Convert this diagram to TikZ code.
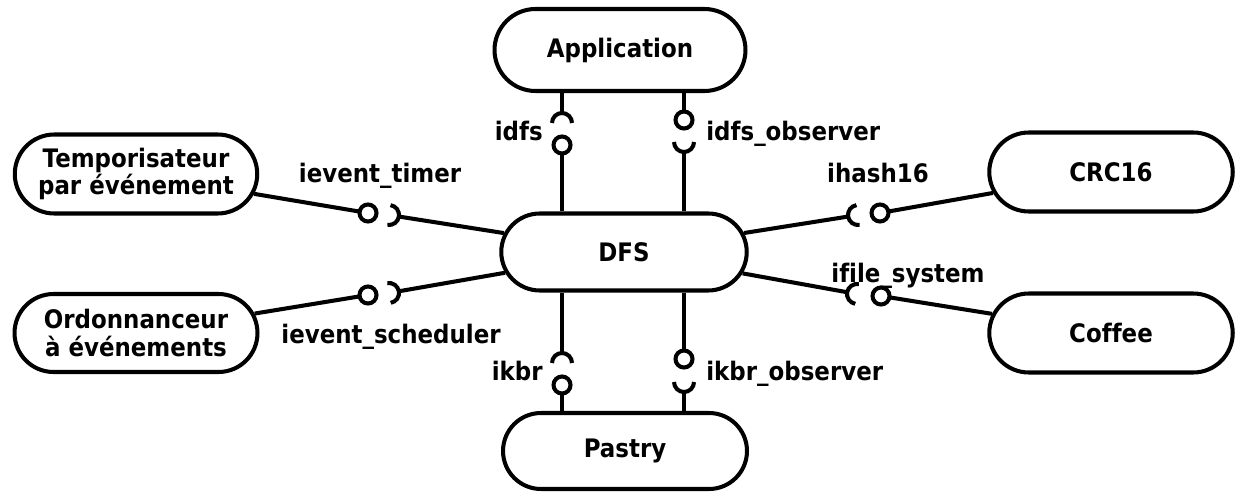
\documentclass[tikz,border=0pt]{standalone}
\usepackage{fontspec}
\setmainfont{DejaVu Sans}[FakeStretch=0.9, Ligatures=CommonOff]
\usetikzlibrary{shapes.misc,calc}

% ball and socket radii of the interface symbols
\newcommand\ballr{0.17cm}
\newcommand\sockr{0.20cm}
% interface: #1 provider end, #2 ball centre, #3 socket centre, #4 requirer end
\newcommand\iface[4]{%
  \draw[conn] (#1) -- ($(#2)!\ballr!(#1)$);
  \draw[conn] (#2) circle[radius=\ballr];
  \draw[conn] let \p1=($(#4)-(#3)$), \n1={atan2(\y1,\x1)} in
    ($(#3)+(\n1+90:\sockr)$) arc[start angle=\n1+90, end angle=\n1-90, radius=\sockr];
  \draw[conn] ($(#3)!\sockr!(#4)$) -- (#4);
}

\begin{document}
\begin{tikzpicture}[x=0.02cm,y=-0.02cm,
  comp/.style={rounded rectangle, draw, line width=2.3pt, inner xsep=-0.4cm,
    inner ysep=0pt, align=center, font=\bfseries\fontsize{14.5}{15.7}\selectfont},
  conn/.style={line width=2.3pt},
  lbl/.style={inner sep=0pt, font=\bfseries\fontsize{14.5}{15.7}\selectfont}]

\useasboundingbox (0,0) rectangle (1236,493);

% components
\node[comp, minimum width=4.22cm, minimum height=1.64cm] (app)    at (620,50)  {Application};
\node[comp, minimum width=4.11cm, minimum height=1.54cm] (dfs)    at (624,252) {DFS};
\node[comp, minimum width=4.08cm, minimum height=1.52cm] (pastry) at (625,451) {Pastry};
\node[comp, minimum width=4.05cm, minimum height=1.58cm] (tempo)  at (136,174) {Temporisateur\\par événement};
\node[comp, minimum width=4.06cm, minimum height=1.56cm] (ordo)   at (136,333) {Ordonnanceur\\à événements};
\node[comp, minimum width=4.07cm, minimum height=1.58cm] (crc)    at (1111,172) {CRC16};
\node[comp, minimum width=4.07cm, minimum height=1.58cm] (coffee) at (1111,333) {Coffee};

% idfs: provided by DFS, required by Application
\coordinate (idfsB) at (562,145);
\coordinate (idfsS) at (562,123);
\coordinate (idfsP) at (dfs.north -| idfsB);
\coordinate (idfsR) at (app.south -| idfsB);
\iface{idfsP}{idfsB}{idfsS}{idfsR}

% idfs_observer: provided by Application, required by DFS
\coordinate (obsB) at (684,120);
\coordinate (obsS) at (684,142);
\coordinate (obsP) at (app.south -| obsB);
\coordinate (obsR) at (dfs.north -| obsB);
\iface{obsP}{obsB}{obsS}{obsR}

% ikbr: provided by Pastry, required by DFS
\coordinate (kbrB) at (562,385);
\coordinate (kbrS) at (562,363);
\coordinate (kbrP) at (pastry.north -| kbrB);
\coordinate (kbrR) at (dfs.south -| kbrB);
\iface{kbrP}{kbrB}{kbrS}{kbrR}

% ikbr_observer: provided by DFS, required by Pastry
\coordinate (kobsB) at (684,359);
\coordinate (kobsS) at (684,382);
\coordinate (kobsP) at (dfs.south -| kobsB);
\coordinate (kobsR) at (pastry.north -| kobsB);
\iface{kobsP}{kobsB}{kobsS}{kobsR}

% side interfaces, all required by DFS
\coordinate (timB) at (368,213);  \coordinate (timS) at (389,215);
\iface{tempo}{timB}{timS}{dfs}
\coordinate (schB) at (368,295);  \coordinate (schS) at (389,293);
\iface{ordo}{schB}{schS}{dfs}
\coordinate (hashB) at (880,213); \coordinate (hashS) at (858,215);
\iface{crc}{hashB}{hashS}{dfs}
\coordinate (fsB) at (881,296);   \coordinate (fsS) at (857,294);
\iface{coffee}{fsB}{fsS}{dfs}

% interface names
\node[lbl, anchor=base east] (l1) at (543,141) {idfs};
\node[lbl, anchor=base west] (l2) at (706,141) {idfs\_observer};
\node[lbl, anchor=base]      (l3) at (380,183) {ievent\_timer};
\node[lbl, anchor=base]      (l4) at (391,343) {ievent\_scheduler};
\node[lbl, anchor=base]      (l5) at (878,183) {ihash16};
\node[lbl, anchor=base]      (l6) at (908,282) {ifile\_system};
\node[lbl, anchor=base east] (l7) at (543,380) {ikbr};
\node[lbl, anchor=base west] (l8) at (706,380) {ikbr\_observer};
\end{tikzpicture}
\end{document}
